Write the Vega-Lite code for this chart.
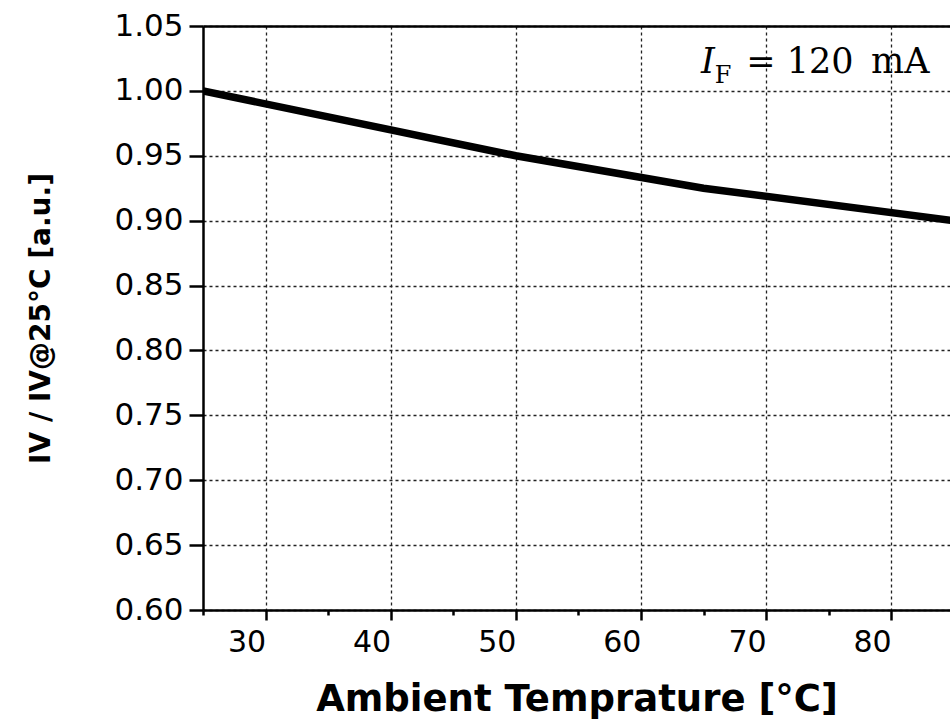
{
  "$schema": "https://vega.github.io/schema/vega-lite/v6.json",
  "width": 747,
  "height": 584,
  "autosize": {"type": "none"},
  "padding": {"left": 203, "top": 26, "right": 0, "bottom": 115},
  "background": "white",
  "config": {
    "view": {"stroke": null},
    "axis": {
      "domainColor": "black",
      "domainWidth": 2.5,
      "tickColor": "black",
      "tickWidth": 2.5,
      "labelColor": "black",
      "titleColor": "black",
      "labelFont": "DejaVu Sans",
      "titleFont": "DejaVu Sans",
      "gridColor": "#222222",
      "gridWidth": 1.3,
      "gridDash": [3, 3]
    }
  },
  "datasets": {
    "curve": [
      {"T": 25, "r": 1.0},
      {"T": 50, "r": 0.95},
      {"T": 65, "r": 0.925},
      {"T": 85, "r": 0.9}
    ],
    "note": [
      {"T": 64.8, "r": 1.0138, "t": "I"},
      {"T": 65.9, "r": 1.0062, "t": "F"},
      {"T": 83.06, "r": 1.0138, "t": "= 120\u2002mA"}
    ]
  },
  "layer": [
    {
      "data": {"name": "curve"},
      "mark": {"type": "line", "color": "black", "strokeWidth": 7.5, "clip": true},
      "encoding": {
        "x": {
          "field": "T",
          "type": "quantitative",
          "scale": {"domain": [25, 84.7], "nice": false, "zero": false},
          "axis": {
            "values": [25, 30, 35, 40, 45, 50, 55, 60, 65, 70, 75, 80],
            "labelExpr": "datum.value % 10 == 0 ? datum.label : ''",
            "labelFontSize": 30,
            "labelAlign": "right",
            "labelPadding": 7,
            "tickSize": {"condition": {"test": "datum.value % 10 == 0", "value": 10}, "value": 5},
            "grid": true,
            "gridOpacity": {"condition": {"test": "datum.value % 10 == 0", "value": 1}, "value": 0},
            "title": "Ambient Temprature [°C]",
            "titleFontSize": 37,
            "titleFontWeight": "bold",
            "titlePadding": 24
          }
        },
        "y": {
          "field": "r",
          "type": "quantitative",
          "scale": {"domain": [0.6, 1.05], "nice": false, "zero": false},
          "axis": {
            "values": [0.6, 0.625, 0.65, 0.675, 0.7, 0.725, 0.75, 0.775, 0.8, 0.825, 0.85, 0.875, 0.9, 0.925, 0.95, 0.975, 1.0, 1.025, 1.05],
            "labelExpr": "abs(datum.value*20 - round(datum.value*20)) < 0.000001 ? format(datum.value, '.2f') : ''",
            "labelFontSize": 31,
            "labelPadding": 6,
            "tickSize": {"condition": {"test": "abs(datum.value*20 - round(datum.value*20)) < 0.000001", "value": 14}, "value": 7},
            "grid": true,
            "gridOpacity": {"condition": {"test": "abs(datum.value*20 - round(datum.value*20)) < 0.000001", "value": 1}, "value": 0},
            "title": "IV / IV@25°C [a.u.]",
            "titleFontSize": 28,
            "titleFontWeight": "bold",
            "titlePadding": 58
          }
        }
      }
    },
    {
      "data": {"name": "curve"},
      "mark": {"type": "line", "opacity": 0},
      "encoding": {
        "x": {
          "field": "T",
          "type": "quantitative",
          "axis": {"orient": "top", "labels": false, "ticks": false, "grid": false, "title": null}
        },
        "y": {"field": "r", "type": "quantitative"}
      }
    },
    {
      "data": {"name": "note"},
      "transform": [{"filter": "datum.t == 'I'"}],
      "mark": {"type": "text", "font": "DejaVu Serif", "fontStyle": "italic", "fontSize": 35, "align": "left", "baseline": "alphabetic", "color": "black"},
      "encoding": {
        "x": {"field": "T", "type": "quantitative", "axis": null},
        "y": {"field": "r", "type": "quantitative"},
        "text": {"field": "t"}
      }
    },
    {
      "data": {"name": "note"},
      "transform": [{"filter": "datum.t == 'F'"}],
      "mark": {"type": "text", "font": "DejaVu Serif", "fontSize": 24, "align": "left", "baseline": "alphabetic", "color": "black"},
      "encoding": {
        "x": {"field": "T", "type": "quantitative", "axis": null},
        "y": {"field": "r", "type": "quantitative"},
        "text": {"field": "t"}
      }
    },
    {
      "data": {"name": "note"},
      "transform": [{"filter": "datum.t != 'I' && datum.t != 'F'"}],
      "mark": {"type": "text", "font": "DejaVu Serif", "fontSize": 35, "align": "right", "baseline": "alphabetic", "color": "black"},
      "encoding": {
        "x": {"field": "T", "type": "quantitative", "axis": null},
        "y": {"field": "r", "type": "quantitative"},
        "text": {"field": "t"}
      }
    }
  ],
  "resolve": {"axis": {"x": "independent"}}
}
